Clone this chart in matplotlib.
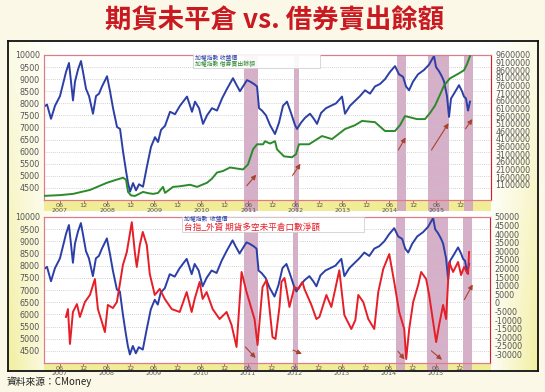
import numpy as np
import matplotlib
matplotlib.use('Agg')
import matplotlib.pyplot as plt
from matplotlib.patches import Rectangle

# ---------------- data (dates as decimal years) ----------------
blue_t = [2007.074, 2007.138, 2007.223, 2007.308, 2007.414, 2007.478, 2007.542, 2007.605, 2007.648,
          2007.690, 2007.733, 2007.797, 2007.860, 2007.903, 2007.967, 2008.031, 2008.115, 2008.179,
          2008.243, 2008.307, 2008.371, 2008.413, 2008.477, 2008.541, 2008.626, 2008.690, 2008.754,
          2008.817, 2008.860, 2008.903, 2008.966, 2009.030, 2009.093, 2009.178, 2009.263, 2009.348,
          2009.433, 2009.497, 2009.561, 2009.646, 2009.752, 2009.858, 2009.964, 2010.113, 2010.177,
          2010.219, 2010.283, 2010.368, 2010.453, 2010.538, 2010.644, 2010.750, 2010.857, 2010.963,
          2011.090, 2011.154, 2011.239, 2011.303, 2011.388, 2011.452, 2011.537, 2011.601, 2011.643,
          2011.707, 2011.792, 2011.877, 2011.983, 2012.068, 2012.153, 2012.238, 2012.323, 2012.408,
          2012.451, 2012.536, 2012.621, 2012.727, 2012.812, 2012.876, 2012.961, 2013.067, 2013.173,
          2013.280, 2013.407, 2013.471, 2013.577, 2013.683, 2013.789, 2013.896, 2014.002, 2014.108,
          2014.214, 2014.321, 2014.427, 2014.533, 2014.618, 2014.703, 2014.767, 2014.831, 2014.916,
          2015.022, 2015.149, 2015.256, 2015.362, 2015.405, 2015.468, 2015.532, 2015.574, 2015.638,
          2015.681, 2015.723, 2015.787, 2015.893, 2015.957, 2015.999, 2016.042, 2016.085, 2016.127]
blue_v = [7860, 7950, 7360, 7900, 8300, 8800, 9300, 9670, 8900,
          8120, 8900, 9400, 9750, 9300, 8600, 8300, 7570, 8300,
          8400, 8700, 8950, 9120, 8500, 7800, 7020, 6940, 6000,
          5200, 4700, 4350, 4700, 4400, 4650, 4550, 5400, 6200,
          6600, 6400, 6900, 7070, 7650, 7550, 7900, 8280, 7900,
          7650, 8070, 7800, 7150, 7500, 7800, 7700, 8200, 8600,
          9040, 8800, 8500, 8700, 8960, 8900, 8800, 8700, 7800,
          7700, 7500, 7100, 6730, 7200, 7900, 8070, 7600, 7100,
          6940, 7200, 7400, 7570, 7350, 7150, 7600, 7800, 7900,
          8000, 8280, 7570, 7900, 8100, 8300, 8540, 8400, 8700,
          8800, 9000, 9300, 9540, 9200, 9100, 8700, 8540, 8900,
          9200, 9380, 9600, 9960, 9500, 9330, 9100, 8910, 8300,
          7440, 8200, 8400, 8750, 8500, 8280, 8200, 7700, 8070]

green_t = [2007.074, 2007.414, 2007.690, 2008.052, 2008.413, 2008.584, 2008.754, 2008.817, 2008.860,
           2008.924, 2009.008, 2009.178, 2009.284, 2009.390, 2009.497, 2009.603, 2009.646, 2009.816,
           2009.964, 2010.177, 2010.326, 2010.538, 2010.644, 2010.750, 2010.878, 2011.027, 2011.303,
           2011.409, 2011.516, 2011.601, 2011.729, 2011.771, 2011.877, 2011.983, 2012.025, 2012.174,
           2012.344, 2012.429, 2012.493, 2012.706, 2012.833, 2012.982, 2013.194, 2013.471, 2013.683,
           2013.832, 2014.108, 2014.321, 2014.533, 2014.639, 2014.746, 2015.001, 2015.170, 2015.277,
           2015.383, 2015.489, 2015.574, 2015.702, 2015.893, 2015.999, 2016.063, 2016.127]
green_v = [370000, 420000, 500000, 760000, 1230000, 1400000, 1560000, 1430000, 630000,
           400000, 366000, 630000, 550000, 500000, 560000, 960000, 565000, 960000,
           1000000, 1100000, 960000, 1230000, 1500000, 1900000, 2000000, 2230000, 2100000,
           2430000, 3420000, 3750000, 3750000, 3950000, 3800000, 3950000, 3420000, 2960000,
           2900000, 3100000, 3750000, 3750000, 4000000, 4290000, 4090000, 4750000, 5000000,
           5280000, 5200000, 4620000, 4620000, 5000000, 5600000, 5400000, 5400000, 5800000,
           6280000, 7000000, 7600000, 8070000, 8400000, 8600000, 9000000, 9530000]

red_t = [2007.542, 2007.584, 2007.627, 2007.690, 2007.775, 2007.839, 2007.945, 2008.052, 2008.158,
         2008.222, 2008.307, 2008.371, 2008.434, 2008.541, 2008.626, 2008.690, 2008.754, 2008.838,
         2008.944, 2009.008, 2009.050, 2009.114, 2009.178, 2009.263, 2009.327, 2009.433, 2009.539,
         2009.646, 2009.794, 2009.964, 2010.113, 2010.219, 2010.283, 2010.389, 2010.453, 2010.538,
         2010.666, 2010.814, 2010.963, 2011.069, 2011.175, 2011.282, 2011.388, 2011.494, 2011.558,
         2011.622, 2011.728, 2011.813, 2011.941, 2012.004, 2012.089, 2012.132, 2012.196, 2012.238,
         2012.302, 2012.408, 2012.493, 2012.578, 2012.621, 2012.769, 2012.876, 2012.940, 2013.088,
         2013.194, 2013.364, 2013.471, 2013.620, 2013.705, 2013.768, 2013.874, 2013.981, 2014.108,
         2014.193, 2014.299, 2014.427, 2014.533, 2014.639, 2014.746, 2014.788, 2014.852, 2014.937,
         2015.043, 2015.107, 2015.213, 2015.277, 2015.362, 2015.426, 2015.489, 2015.574, 2015.638,
         2015.702, 2015.787, 2015.893, 2015.957, 2016.021, 2016.106, 2016.127]
red_v = [-8200, -3600, -23900, -5300, -700, -8200, 500, 4600, 13900,
         -3600, -11100, -17000, -1200, -3000, 500, 11000, 22000, 29600,
         47000, 29600, 20900, 33700, 41300, 33700, 16800, 4600, 8100,
         2300, -3600, -5300, 6300, -5300, 2300, 12200, 2300, 6300,
         -3600, -9400, -5300, -12900, -25700, 18000, 6300, -3600, -9400,
         -24500, 9200, 13300, -19900, -21000, -2400, 12200, 14500, 8100,
         -2400, 9200, 8100, 12200, 8100, -1200, -9400, -8200, 4600,
         -2400, 19000, -7100, -15200, -10000, 4600, 500, -9400, -15200,
         6300, 19700, 28400, 12200, -5300, -15200, -32700, -15200, 500,
         10400, 18000, 13900, 4600, -11100, -22800, -12900, -1200, -9400,
         23800, 18000, 23800, 16200, 20900, 16800, 29600]

band_start = [2011.324, 2012.387, 2014.575, 2015.234, 2015.999]
band_end = [2011.622, 2012.493, 2014.767, 2015.681, 2016.190]

# arrows: (tail_t, tail_v, head_t, head_v) in left-axis units
top_arrows = [(2011.345, 4504, 2011.622, 5134), (2012.323, 4924, 2012.557, 5596),
              (2014.575, 5974, 2014.788, 6688), (2015.277, 5974, 2015.702, 7276),
              (2015.999, 6856, 2016.211, 7444)]
bot_arrows = [(2011.324, 4740, 2011.622, 4123), (2012.323, 4575, 2012.621, 4329),
              (2014.575, 4575, 2014.788, 4060), (2015.277, 4575, 2015.595, 4060),
              (2015.999, 6507, 2016.233, 7329)]

tick_years = list(range(2007, 2016))
left_ticks = list(range(4500, 10001, 500))
top_right_ticks = list(range(1100000, 9600001, 500000))
bot_right_ticks = list(range(-30000, 50001, 5000))

title = '期貨未平倉 vs. 借券賣出餘額'
source = '資料來源：CMoney'
leg_top = ['加權指數 收盤價', '加權指數 借券賣出餘額']
leg_bot = ['加權指數  收盤價', '台指_外資 期貨多空未平倉口數淨額']

# ---------------- styling ----------------
CJK = ['Noto Sans CJK TC', 'DejaVu Sans']
plt.rcParams['font.family'] = CJK
BLUE = '#2b3fa6'
GREEN = '#2b8a2b'
RED = '#e61e28'
BAND = '#cfa2c0'
ARROW = '#a8432e'
SPINE = '#dc7c88'
YELLOW = np.array([241, 237, 150]) / 255.0
TICKC = '#555555'

W, H = 545, 392
fig = plt.figure(figsize=(W / 100, H / 100), dpi=100)
fig.patch.set_facecolor('#fbf8e8')

def fx(x):
    return x / W

def fy(y):
    return 1 - y / H

# frame with gradient background
frame = fig.add_axes([fx(7.5), fy(371), (538 - 7.5) / W, (371 - 41) / H])
nx, ny = 300, 150
xx = np.linspace(0, 1, nx)[None, :]
yy = np.linspace(1, 0, ny)[:, None]
edge = np.clip((np.abs(xx - 0.5) - 0.40) / 0.10, 0, 1)
w = edge * (0.25 + 0.75 * (1 - yy)) * 0.9
img = (1 - w[..., None]) * np.ones(3) + w[..., None] * YELLOW
frame.imshow(img, extent=[0, 1, 0, 1], aspect='auto', zorder=0)
frame.set_xlim(0, 1)
frame.set_ylim(0, 1)
frame.set_xticks([])
frame.set_yticks([])
for s in frame.spines.values():
    s.set_color('#111111')
    s.set_linewidth(1.3)

# yellow label bands
for (y0, y1) in [(200, 211), (363, 370)]:
    frame.add_patch(Rectangle((fx(44), fy(y1)), (491 - 44) / W, (y1 - y0) / H,
                              transform=fig.transFigure, facecolor=YELLOW, edgecolor='none',
                              zorder=1, clip_on=False))

xlim = (2007.074, 2016.573)
xt = []
xl = []
for y in tick_years:
    xt.append(y + 0.414)
    xl.append('06\n%d' % y)
    xt.append(y + 0.915)
    xl.append('12')


def style_axes(ax, axr, rticks, band_h):
    ax.set_xlim(*xlim)
    ax.set_facecolor('white')
    ax.set_yticks(left_ticks)
    ax.set_yticklabels([str(v) for v in left_ticks], fontsize=5.8, color=TICKC,
                       family=['DejaVu Sans'])
    ax.yaxis.grid(True, color='#c4c4c4', linestyle=(0, (1, 1.5)), linewidth=0.6)
    ax.set_axisbelow(True)
    ax.tick_params(axis='y', length=0, pad=3)
    ax.set_xticks(xt)
    ax.set_xticklabels(xl, fontsize=4.6, color=TICKC, linespacing=0.85,
                       family=['DejaVu Sans'])
    ax.tick_params(axis='x', length=2, width=0.6, color='#e04050', pad=0.5)
    axr.set_yticks(rticks)
    axr.set_yticklabels([str(v) for v in rticks], fontsize=5.8, color=TICKC,
                        family=['DejaVu Sans'])
    axr.tick_params(axis='y', length=0, pad=3)
    for a in (ax, axr):
        for s in a.spines.values():
            s.set_color(SPINE)
            s.set_linewidth(0.8)
    axr.spines['right'].set_color('#d02030')
    for s, e in zip(band_start, band_end):
        ax.axvspan(s, e, ymin=-band_h, ymax=1, color=BAND, alpha=0.85, lw=0,
                   clip_on=False, zorder=0.5)


# ---------------- top panel ----------------
ax1 = fig.add_axes([fx(44), fy(200), 447 / W, 145 / H])
ax1r = ax1.twinx()
ax1.set_ylim(4000, 10000)
ax1r.set_ylim(100000, 9600000)
style_axes(ax1, ax1r, top_right_ticks, 11 / 145)
ax1.plot(blue_t, blue_v, color=BLUE, lw=1.4, zorder=3)
ax1r.plot(green_t, green_v, color=GREEN, lw=1.4, zorder=3)
for (t0, v0, t1, v1) in top_arrows:
    ax1r.annotate('', xy=(t1, v1), xytext=(t0, v0),
                  xycoords=ax1.transData, textcoords=ax1.transData,
                  arrowprops=dict(arrowstyle='-|>', color=ARROW, lw=0.8, mutation_scale=7),
                  annotation_clip=False)

# top legend
ax1r.add_patch(Rectangle((fx(193), fy(68)), (320 - 193) / W, 13.5 / H, transform=fig.transFigure,
                         facecolor='white', edgecolor='#cccccc', lw=0.6, zorder=4, alpha=0.9))
fig.text(fx(195), fy(58.3), leg_top[0], fontsize=4.2, color=BLUE, va='center', family=CJK)
fig.text(fx(195), fy(64.6), leg_top[1], fontsize=4.2, color=GREEN, va='center', family=CJK)

# ---------------- bottom panel ----------------
ax2 = fig.add_axes([fx(44), fy(363), 446 / W, 146 / H])
ax2r = ax2.twinx()
ax2.set_ylim(4000, 10000)
ax2r.set_ylim(-35000, 50000)
style_axes(ax2, ax2r, bot_right_ticks, 7 / 146)
ax2.plot(blue_t, blue_v, color=BLUE, lw=1.4, zorder=3)
ax2r.plot(red_t, red_v, color=RED, lw=1.4, zorder=3)
for (t0, v0, t1, v1) in bot_arrows:
    ax2r.annotate('', xy=(t1, v1), xytext=(t0, v0),
                  xycoords=ax2.transData, textcoords=ax2.transData,
                  arrowprops=dict(arrowstyle='-|>', color=ARROW, lw=0.8, mutation_scale=7),
                  annotation_clip=False)

ax2r.add_patch(Rectangle((fx(182), fy(232)), (364 - 182) / W, 15 / H, transform=fig.transFigure,
                         facecolor='white', edgecolor='#cccccc', lw=0.6, zorder=4, alpha=0.9))
fig.text(fx(184), fy(219.5), leg_bot[0], fontsize=4.2, color=BLUE, va='center', family=CJK)
fig.text(fx(184), fy(227.3), leg_bot[1], fontsize=6.2, color=RED, va='center', family=CJK)

# ---------------- title & source ----------------
fig.text(fx(274.5), fy(21), title, fontsize=19, weight='bold', color='#c91a22',
         ha='center', va='center', family=CJK)
fig.text(fx(7), fy(382), source, fontsize=7, color='#222222', va='center', family=CJK)

fig.savefig('out.png', dpi=100, facecolor=fig.get_facecolor())
